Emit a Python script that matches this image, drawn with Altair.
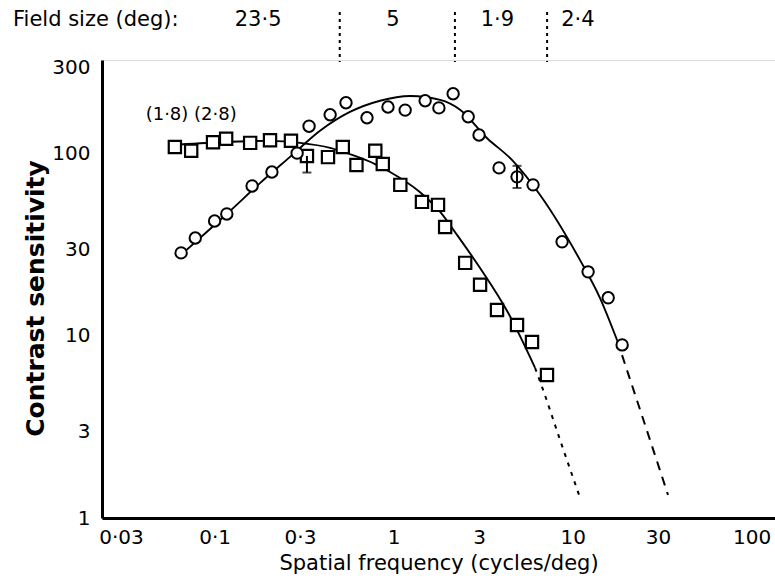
import altair as alt
import pandas as pd

# ---- data ----
# squares
sq_f = [0.060, 0.074, 0.098, 0.116, 0.158, 0.204, 0.267, 0.328, 0.43, 0.52, 0.62, 0.79,
        0.87, 1.09, 1.44, 1.77, 1.94, 2.51, 3.04, 3.78, 4.89, 5.93, 7.19]
sq_s = [109, 104, 116, 121, 115, 119, 118, 97.5, 96, 109, 87, 104,
        88, 67.6, 54.5, 52.5, 39.7, 25.2, 19.1, 13.9, 11.5, 9.27, 6.1]
# circles
ci_f = [0.065, 0.078, 0.100, 0.117, 0.162, 0.209, 0.289, 0.337, 0.442, 0.542, 0.71, 0.93,
        1.16, 1.50, 1.79, 2.15, 2.61, 3.0, 3.88, 4.89, 6.01, 8.73, 12.2, 15.8, 18.9]
ci_s = [28.6, 34.5, 42.8, 46.8, 66.7, 79.6, 101, 142, 164, 191, 158, 181,
        174, 196, 179, 214, 160, 127, 83.8, 74.8, 67.6, 32.9, 22.5, 16.2, 8.93]

# fitted curves
sq_curve_f = [0.058, 0.107, 0.204, 0.300, 0.442, 0.608, 0.787, 0.955, 1.40, 1.82, 2.26, 3.04, 4.36, 6.17]
sq_curve_s = [112, 116, 118, 115, 108, 97.5, 88, 79.6, 61.8, 48, 35.9, 23.6, 13.4, 6.67]
sq_ext_f = [6.17, 6.75, 8.51, 11.0]
sq_ext_s = [6.67, 5.24, 2.68, 1.29]

ci_curve_f = [0.0649, 0.0828, 0.122, 0.180, 0.264, 0.388, 0.570, 0.840, 1.24, 1.82, 2.35, 3.33,
              4.58, 6.58, 11.0, 14.2, 17.7]
ci_curve_s = [27.9, 34.5, 48.6, 69.3, 96.3, 134, 170, 196, 208, 198, 175, 122,
              92.7, 59.5, 26.1, 16.2, 9.5]
ci_ext_f = [17.7, 25.4, 34.1]
ci_ext_s = [9.5, 3.24, 1.34]

# error bars
err_f = [0.328, 4.89]
err_lo = [79, 65]
err_hi = [97.5, 86]

# field-size annotation
field_labels = ["23·5", "5", "1·9", "2·4"]
field_label_f = [0.175, 0.99, 3.8, 10.7]
field_sep_f = [0.5, 2.2, 7.2]

note_text = ["(1·8) (2·8)"]
note_f = [0.074]
note_s = [164]

x_ticks = [0.03, 0.1, 0.3, 1, 3, 10, 30, 100]
y_ticks = [1, 3, 10, 30, 100, 300]

FONT = "DejaVu Sans"

x_scale = alt.Scale(type="log", domain=[0.0235, 135], nice=False)
y_scale = alt.Scale(type="log", domain=[1, 328], nice=False)

x_axis = alt.Axis(values=x_ticks, format=".2~f", labelExpr="replace(datum.label, '.', '·')",
                  title="Spatial frequency (cycles/deg)", ticks=False, tickSize=0, grid=False,
                  domainWidth=3, domainColor="black", labelFontSize=20, labelPadding=9,
                  labelColor="black", labelFont=FONT, titleFont=FONT, titleFontSize=21,
                  titleFontWeight="normal", titleColor="black", titleY=51,
                  titleBaseline="alphabetic", labelFlush=False, labelOverlap=False)
y_axis = alt.Axis(values=y_ticks, format="d", title="Contrast sensitivity", ticks=False,
                  tickSize=0, grid=False, domainWidth=3, domainColor="black", labelFontSize=20,
                  labelPadding=12, labelColor="black", labelFont=FONT, titleFont=FONT,
                  titleFontSize=25, titleFontWeight="bold", titleColor="black",
                  titleAngle=270, titleX=-67, titleY=238, titleAlign="center",
                  titleBaseline="middle", labelFlush=False, labelOverlap=False)

X = alt.X("f:Q", scale=x_scale, axis=x_axis)
Y = alt.Y("s:Q", scale=y_scale, axis=y_axis)


def df(f, s):
    return pd.DataFrame({"f": f, "s": s})


sq_line = alt.Chart(df(sq_curve_f, sq_curve_s)).mark_line(
    color="black", strokeWidth=1.9, interpolate="monotone").encode(x=X, y=Y)
sq_dash = alt.Chart(df(sq_ext_f, sq_ext_s)).mark_line(
    color="black", strokeWidth=2, strokeDash=[4, 6], interpolate="monotone").encode(x=X, y=Y)
ci_line = alt.Chart(df(ci_curve_f, ci_curve_s)).mark_line(
    color="black", strokeWidth=1.9, interpolate="monotone").encode(x=X, y=Y)
ci_dash = alt.Chart(df(ci_ext_f, ci_ext_s)).mark_line(
    color="black", strokeWidth=2, strokeDash=[9, 7], interpolate="monotone").encode(x=X, y=Y)

sq_pts = alt.Chart(df(sq_f, sq_s)).mark_point(
    shape="square", size=150, filled=True, fill="white", stroke="black",
    strokeWidth=2.2, opacity=1).encode(x=X, y=Y)
ci_pts = alt.Chart(df(ci_f, ci_s)).mark_point(
    shape="circle", size=130, filled=True, fill="white", stroke="black",
    strokeWidth=2, opacity=1).encode(x=X, y=Y)

err_df = pd.DataFrame({"f": err_f, "lo": err_lo, "hi": err_hi})
err_rule = alt.Chart(err_df).mark_rule(color="black", strokeWidth=2).encode(
    x=X, y=alt.Y("lo:Q", scale=y_scale, axis=y_axis), y2="hi:Q")
err_cap_lo = alt.Chart(err_df).mark_tick(orient="horizontal", color="black", size=9,
                                         thickness=2).encode(
    x=X, y=alt.Y("lo:Q", scale=y_scale, axis=y_axis))
err_cap_hi = alt.Chart(err_df.iloc[1:]).mark_tick(orient="horizontal", color="black", size=9,
                                                  thickness=2).encode(
    x=X, y=alt.Y("hi:Q", scale=y_scale, axis=y_axis))

note = alt.Chart(pd.DataFrame({"f": note_f, "s": note_s, "t": note_text})).mark_text(
    font=FONT, fontSize=18, color="black").encode(x=X, y=Y, text="t:N")

top_lbl = alt.Chart(pd.DataFrame({"f": field_label_f, "t": field_labels})).mark_text(
    font=FONT, fontSize=21, color="black", baseline="middle").encode(
    x=X, y=alt.value(-40), text="t:N")
top_sep = alt.Chart(pd.DataFrame({"f": field_sep_f})).mark_rule(
    color="black", strokeWidth=2, strokeDash=[3, 4]).encode(
    x=X, y=alt.value(-48), y2=alt.value(2))
top_title = alt.Chart(pd.DataFrame({"t": ["Field size (deg):"]})).mark_text(
    font=FONT, fontSize=21, color="black", align="left", baseline="middle").encode(
    x=alt.value(-89), y=alt.value(-40), text="t:N")

chart = alt.layer(
    sq_line, sq_dash, ci_line, ci_dash, sq_pts, ci_pts, err_rule, err_cap_lo, err_cap_hi,
    note, top_lbl, top_sep, top_title
).properties(
    width=673, height=458, autosize="none",
    padding={"left": 102, "top": 60, "right": 0, "bottom": 68}
).configure_view(stroke=None).configure(background="white")

chart.save("out.html", embed_options={"renderer": "svg", "actions": False})
